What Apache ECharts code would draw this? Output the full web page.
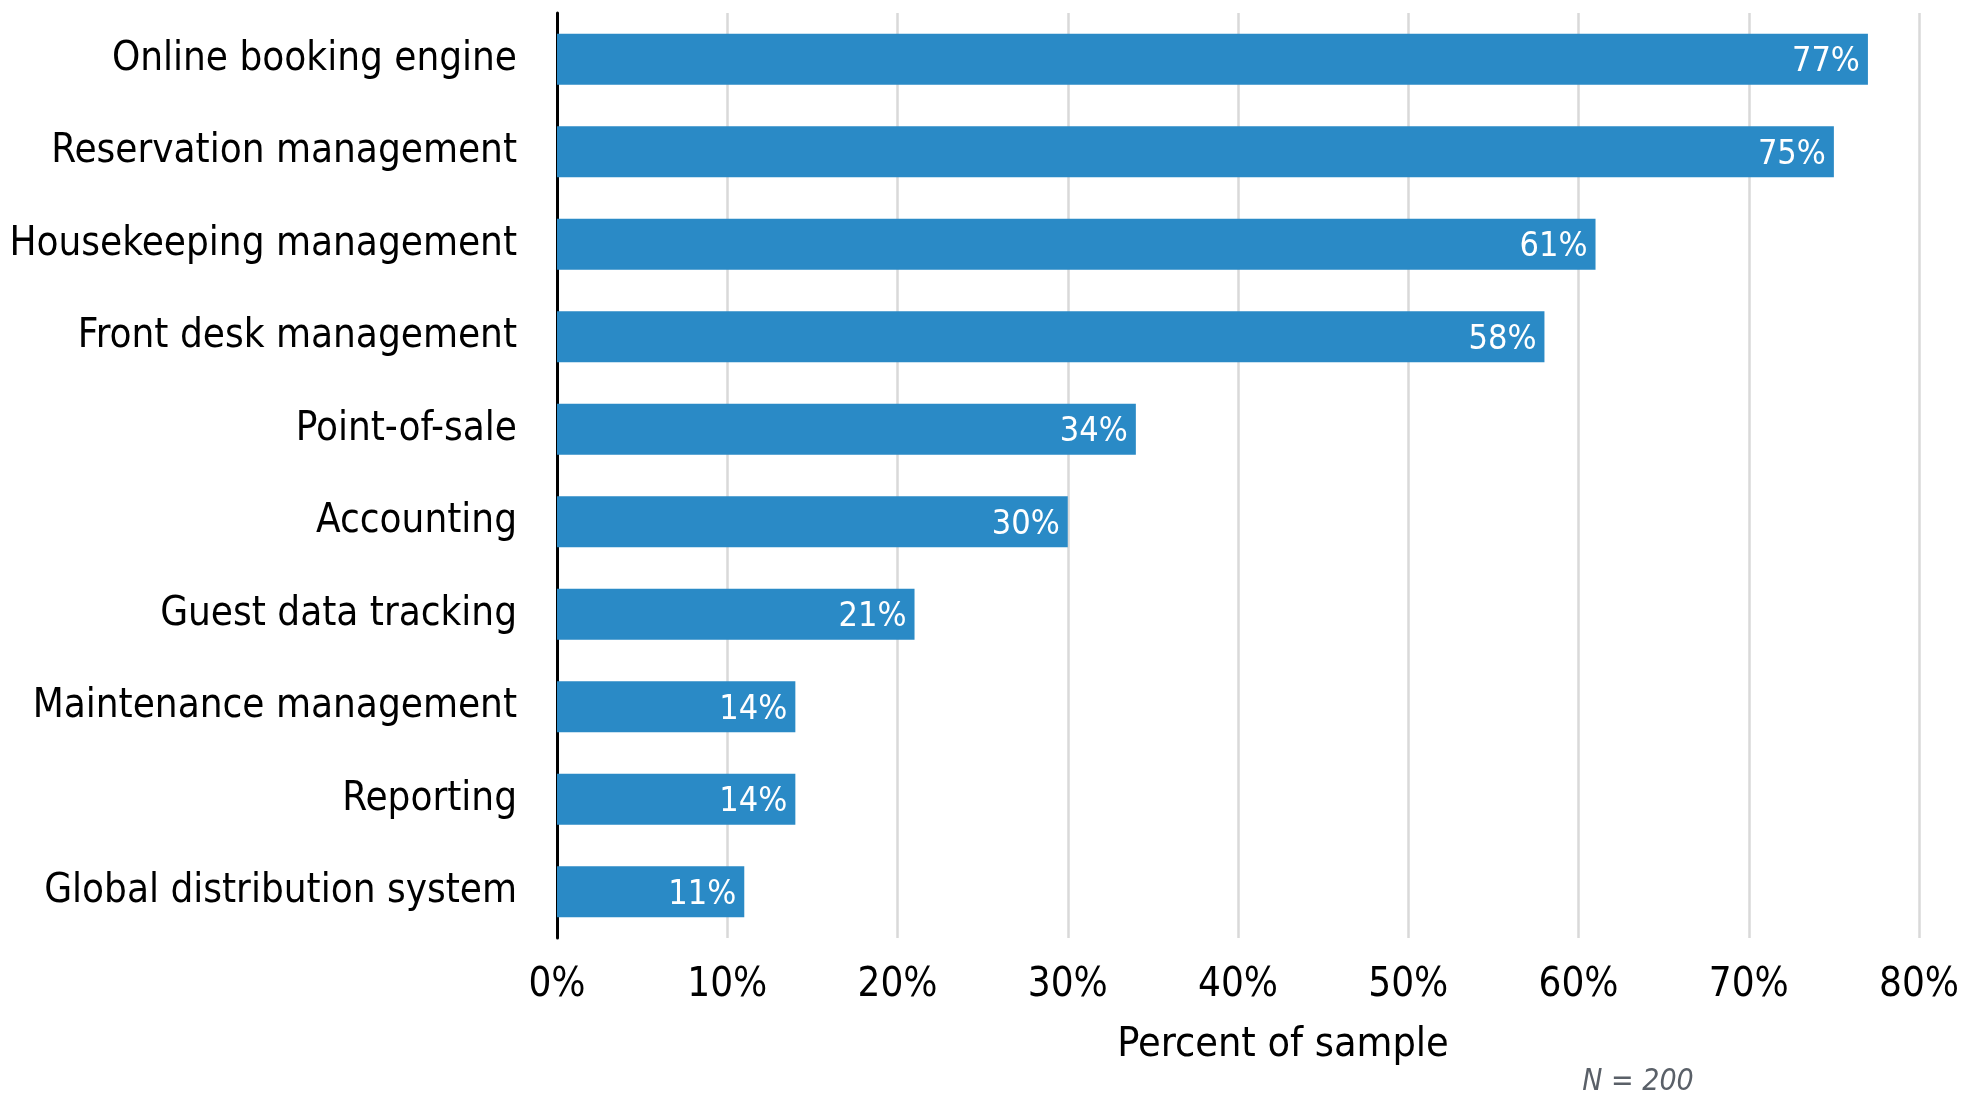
<!DOCTYPE html>
<html>
<head>
<meta charset="utf-8">
<script src="https://cdn.jsdelivr.net/npm/echarts@6/dist/echarts.min.js"></script>
<style>html,body{margin:0;padding:0;background:#fff}#c{width:1983px;height:1093px}</style>
</head>
<body>
<div id="c"></div>
<script>
const categories = ["Online booking engine","Reservation management","Housekeeping management","Front desk management","Point-of-sale","Accounting","Guest data tracking","Maintenance management","Reporting","Global distribution system"];
const values = [77,75,61,58,34,30,21,14,14,11];
const xTicks = [0,10,20,30,40,50,60,70,80];
const FONT = "DejaVu Sans Condensed, DejaVu Sans";
const chart = echarts.init(document.getElementById('c'));
chart.setOption({
  animation:false,
  grid:{left:557,right:64,top:13,bottom:155,containLabel:false},
  xAxis:{type:'value',min:0,max:80,interval:10,
    axisLine:{show:false},axisTick:{show:false},
    splitLine:{show:true,lineStyle:{color:'#d9d9d9',width:2.5}},
    axisLabel:{formatter:v=>v+'%',fontFamily:FONT,fontSize:40,color:'#000',margin:28}},
  yAxis:{type:'category',data:categories.slice().reverse(),
    axisLine:{show:true,onZero:false,lineStyle:{color:'#000',width:3}},
    axisTick:{show:false},
    axisLabel:{fontFamily:FONT,fontSize:40,color:'#000',margin:40,padding:[7,0,0,0]}},
  series:[{type:'bar',data:values.slice().reverse(),barWidth:'55%',
    itemStyle:{color:'#2a8ac6'},
    label:{show:true,position:'insideRight',formatter:p=>p.value+'%',color:'#fff',fontFamily:FONT,fontSize:34,distance:8,offset:[0,3]}}],
  graphic:[
    {type:'text',x:1283,y:1045,style:{text:'Percent of sample',font:'41px '+FONT,fill:'#000',align:'center',verticalAlign:'middle'}},
    {type:'text',x:1638,y:1082,style:{text:'N = 200',font:'italic 30px '+FONT,fill:'#5a6068',align:'center',verticalAlign:'middle'}}
  ]
});
</script>
</body>
</html>
